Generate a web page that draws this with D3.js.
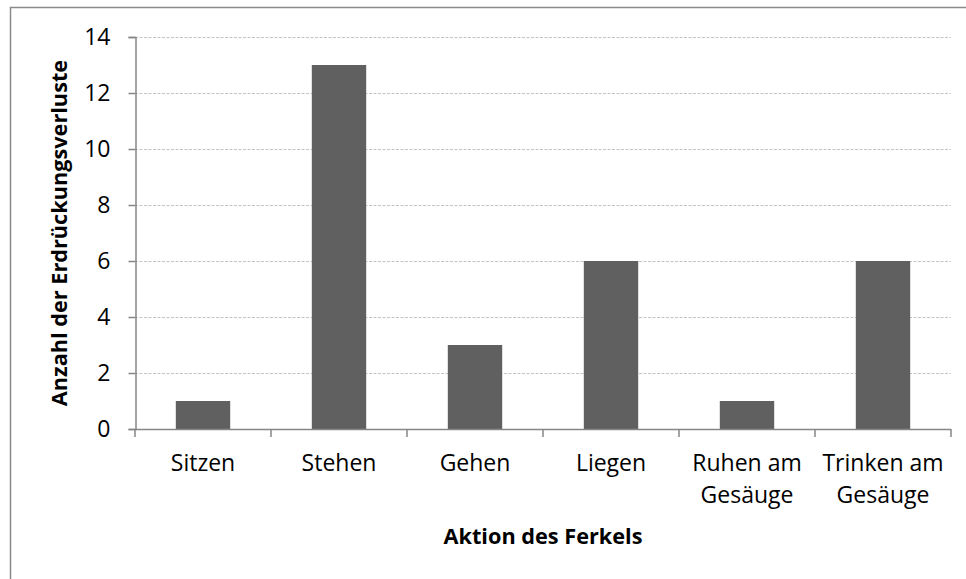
<!DOCTYPE html>
<html><head><meta charset="utf-8">
<script src="https://cdn.jsdelivr.net/npm/d3@7"></script>
<style>body{margin:0;background:#fff}svg{display:block}text{font-family:"Open Sans",sans-serif;fill:#000}</style>
</head><body><svg id="c" width="966" height="579"></svg>
<script>
const categories = [["Sitzen"],["Stehen"],["Gehen"],["Liegen"],["Ruhen am","Gesäuge"],["Trinken am","Gesäuge"]];
const values = [1,13,3,6,1,6];
const yTicks = [0,2,4,6,8,10,12,14];
const yTitle = "Anzahl der Erdrückungsverluste";
const xTitle = "Aktion des Ferkels";

const svg = d3.select("#c");
svg.append("rect").attr("x",10.5).attr("y",7.5).attr("width",1000).attr("height",1000)
  .attr("fill","none").attr("stroke","#8a8a8a").attr("stroke-width",1.5);

const L=135, R=951, T=37, B=429;
const keys = categories.map(c=>c.join(" "));
const x = d3.scaleBand().domain(keys).range([L,R]).paddingInner(0.6).paddingOuter(0.3);
const y = d3.scaleLinear().domain([0,14]).range([B,T]);

// gridlines
svg.append("g").selectAll("line").data(yTicks.filter(d=>d>0)).join("line")
  .attr("x1",L).attr("x2",R).attr("y1",d=>Math.round(y(d))+0.5).attr("y2",d=>Math.round(y(d))+0.5)
  .attr("stroke","#c4c4c4").attr("stroke-dasharray","3,1.5");

// bars
svg.append("g").selectAll("rect").data(values).join("rect")
  .attr("x",(d,i)=>x(keys[i])).attr("width",x.bandwidth())
  .attr("y",d=>y(d)).attr("height",d=>B-y(d)).attr("fill","#606060");

// y axis
const ya = svg.append("g").attr("transform",`translate(${L+0.5},0)`)
  .call(d3.axisLeft(y).tickValues(yTicks).tickSize(7).tickPadding(18).tickFormat(d3.format("d")));
ya.select(".domain").attr("stroke","#868686").attr("stroke-width",1.5);
ya.selectAll(".tick line").attr("stroke","#868686").attr("stroke-width",1.5);
ya.selectAll(".tick text").attr("font-family","Open Sans").attr("font-size",23).attr("fill","#000");

// x axis
const bounds = d3.range(keys.length+1).map(i=>L+i*(R-L)/keys.length);
svg.append("line").attr("x1",L).attr("x2",R).attr("y1",B+0.5).attr("y2",B+0.5).attr("stroke","#868686").attr("stroke-width",1.5);
svg.append("g").selectAll("line").data(bounds).join("line")
  .attr("x1",d=>d).attr("x2",d=>d).attr("y1",B).attr("y2",B+8).attr("stroke","#868686").attr("stroke-width",1.5);
const xl = svg.append("g").selectAll("text").data(categories).join("text")
  .attr("text-anchor","middle").attr("font-size",23)
  .attr("transform",(d,i)=>`translate(${x(keys[i])+x.bandwidth()/2},471)`);
xl.selectAll("tspan").data(d=>d).join("tspan").attr("x",0).attr("y",(d,i)=>i*32).text(d=>d);

svg.append("text").attr("x",(L+R)/2).attr("y",544).attr("text-anchor","middle")
  .attr("font-size",21.7).attr("font-weight","bold").text(xTitle);
svg.append("text").attr("transform",`translate(67,${(T+B)/2}) rotate(-90)`).attr("text-anchor","middle")
  .attr("font-size",21.7).attr("font-weight","bold").text(yTitle);
</script></body></html>
